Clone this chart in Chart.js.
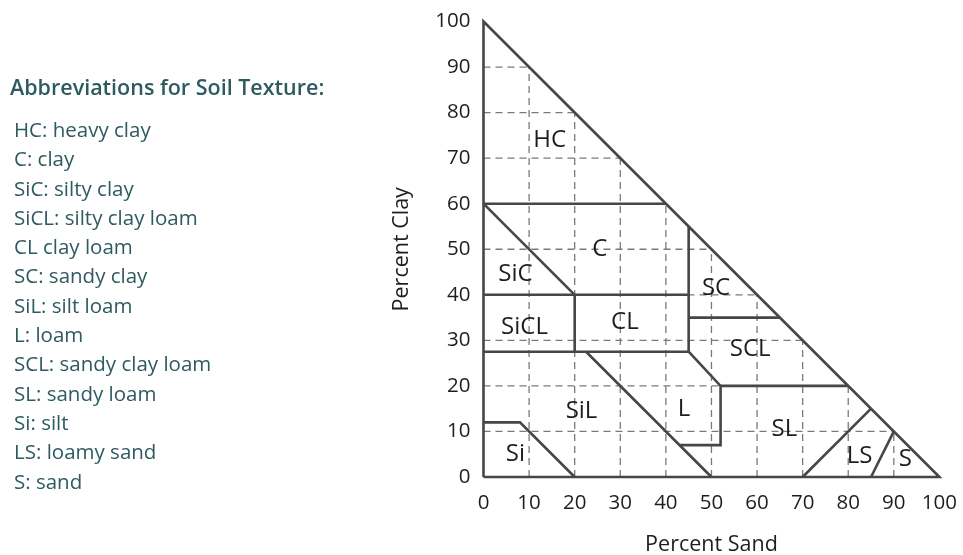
<!DOCTYPE html>
<html>
<head>
<meta charset="utf-8">
<script src="https://cdn.jsdelivr.net/npm/chart.js@4/dist/chart.umd.min.js"></script>
<style>
  html, body { margin: 0; padding: 0; background: #fff; }
  #wrap { position: relative; width: 963px; height: 555px; }
  #legend { position: absolute; left: 10px; top: 72px; color: #2e5a61; font-family: "Open Sans", sans-serif; }
  #legend h3 { margin: 0 0 13px 0; font-size: 21.5px; font-weight: 600; line-height: 30px; }
  #legend div { font-size: 20.5px; line-height: 29.3px; padding-left: 2px; }
</style>
</head>
<body>
<div id="wrap">
  <canvas id="soilCanvas" width="963" height="555"></canvas>
  <div id="legend">
    <h3>Abbreviations for Soil Texture:</h3>
    <div id="legendItems"></div>
  </div>
</div>
<script>
// axis ticks (percent)
const tickValues = [0, 10, 20, 30, 40, 50, 60, 70, 80, 90, 100];
const gridTicks = [10, 20, 30, 40, 50, 60, 70, 80, 90];

// texture class boundaries, [sand, clay]
const outline = [[0, 0], [100, 0], [0, 100], [0, 0]];
const hcBottom = [[0, 60], [40, 60]];
const sicDiag = [[0, 60], [20, 40]];
const clay40 = [[0, 40], [45, 40]];
const scLeft = [[45, 55], [45, 27.5]];
const siclRight = [[20, 40], [20, 27.5]];
const clay275 = [[0, 27.5], [45, 27.5]];
const scBottom = [[45, 35], [65, 35]];
const silDiag = [[22.5, 27.5], [50, 0]];
const loamEdge = [[43, 7], [52, 7], [52, 20], [45, 27.5]];
const slTop = [[52, 20], [80, 20]];
const lsLeft = [[70, 0], [85, 15]];
const sLeft = [[85, 0], [90, 10]];
const siTop = [[0, 12], [8, 12], [20, 0]];

const boundaries = [outline, hcBottom, sicDiag, clay40, scLeft, siclRight, clay275,
  scBottom, silDiag, loamEdge, slTop, lsLeft, sLeft, siTop];

// region labels
const regionNames = ["HC", "C", "SiC", "SiCL", "CL", "SC", "SCL", "SiL", "L", "SL", "LS", "S", "Si"];
const regionSand = [14.5, 25.5, 7, 9, 31, 51, 58.5, 21.5, 44, 66, 82.5, 92.5, 7];
const regionClay = [74, 50, 44.5, 33, 34, 41.5, 28, 14.5, 15, 10.5, 4.5, 4, 5];

const legendLines = [
  "HC: heavy clay", "C: clay", "SiC: silty clay", "SiCL: silty clay loam", "CL clay loam",
  "SC: sandy clay", "SiL: silt loam", "L: loam", "SCL: sandy clay loam", "SL: sandy loam",
  "Si: silt", "LS: loamy sand", "S: sand"
];

document.getElementById("legendItems").innerHTML =
  legendLines.map((t) => "<div>" + t + "</div>").join("");

const toPoints = (arr) => arr.map((p) => ({ x: p[0], y: p[1] }));

const datasets = boundaries.map((b) => ({
  data: toPoints(b),
  showLine: true,
  borderColor: "#464646",
  borderWidth: 2.6,
  pointRadius: 0,
  fill: false,
  clip: false,
  order: 1,
}));

// dashed grid only inside the triangle
gridTicks.forEach((t) => {
  [[[t, 0], [t, 100 - t]], [[0, t], [100 - t, t]]].forEach((seg) => {
    datasets.push({
      data: toPoints(seg),
      showLine: true,
      borderColor: "#7a7a7a",
      borderWidth: 1.3,
      borderDash: [7, 5],
      pointRadius: 0,
      fill: false,
      clip: false,
      order: 2,
    });
  });
});

const regionLabels = {
  id: "regionLabels",
  afterDatasetsDraw(chart) {
    const ctx = chart.ctx;
    const xs = chart.scales.x, ys = chart.scales.y;
    ctx.save();
    ctx.font = "24px 'Open Sans', sans-serif";
    ctx.fillStyle = "#1e1e1e";
    ctx.textAlign = "center";
    ctx.textBaseline = "middle";
    regionNames.forEach((name, i) => {
      ctx.fillText(name, xs.getPixelForValue(regionSand[i]), ys.getPixelForValue(regionClay[i]));
    });
    ctx.restore();
  },
};

new Chart(document.getElementById("soilCanvas").getContext("2d"), {
  type: "scatter",
  data: { datasets },
  plugins: [regionLabels],
  options: {
    responsive: false,
    animation: false,
    layout: { padding: { left: 385, right: 23, top: 21.5, bottom: 4 } },
    plugins: { legend: { display: false }, tooltip: { enabled: false } },
    scales: {
      x: {
        type: "linear",
        min: 0,
        max: 100,
        afterBuildTicks: (s) => { s.ticks = tickValues.map((v) => ({ value: v })); },
        grid: { display: false },
        border: { display: false },
        ticks: { color: "#1e1e1e", font: { family: "Open Sans", size: 20.5 }, padding: 6 },
        title: { display: true, text: "Percent Sand", color: "#1e1e1e", font: { family: "Open Sans", size: 21.5 }, padding: { top: 14, bottom: -7 } },
        afterFit: (s) => { s.height = 74; },
      },
      y: {
        type: "linear",
        min: 0,
        max: 100,
        afterBuildTicks: (s) => { s.ticks = tickValues.map((v) => ({ value: v })); },
        grid: { display: false },
        border: { display: false },
        ticks: { color: "#1e1e1e", font: { family: "Open Sans", size: 20.5 }, padding: 5 },
        title: { display: true, text: "Percent Clay", color: "#1e1e1e", font: { family: "Open Sans", size: 21.5 } },
        afterFit: (s) => { s.width = 98.5; },
      },
    },
  },
});
</script>
</body>
</html>
